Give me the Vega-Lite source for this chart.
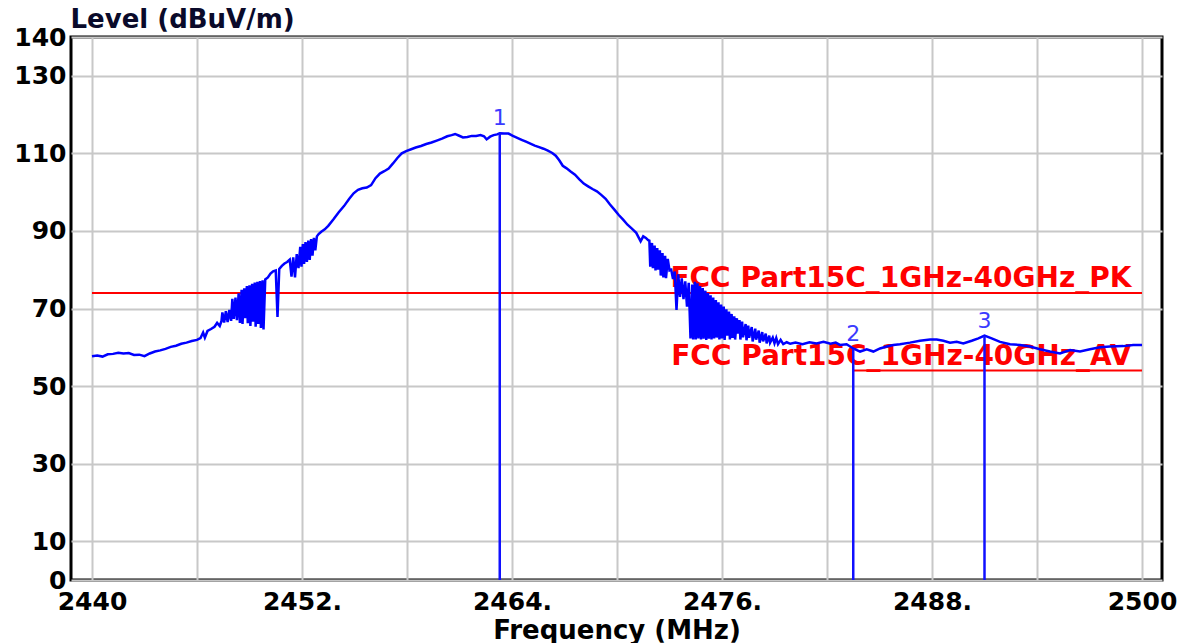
{
  "$schema": "https://vega.github.io/schema/vega-lite/v6.json",
  "width": 1091,
  "height": 543,
  "autosize": {"type": "none"},
  "padding": {"left": 71, "top": 37, "right": 30, "bottom": 63},
  "background": "white",
  "config": {
    "view": {"stroke": "#000000", "strokeWidth": 3},
    "font": "DejaVu Sans"
  },
  "datasets": {
    "limits": [
      {"name": "FCC Part15C_1GHz-40GHz_PK", "lv": 74, "f1": 2440, "f2": 2500},
      {"name": "FCC Part15C_1GHz-40GHz_AV", "lv": 54, "f1": 2483.5, "f2": 2500}
    ],
    "markers": [
      {"m": "1", "f": 2463.3, "v": 115.2},
      {"m": "2", "f": 2483.5, "v": 59.5},
      {"m": "3", "f": 2491.0, "v": 63.0}
    ],
    "trace": [
      {"f": 2440.0, "v": 57.7}, {"f": 2440.3, "v": 57.9}, {"f": 2440.6, "v": 57.6}, {"f": 2440.9, "v": 58.2},
      {"f": 2441.2, "v": 58.3}, {"f": 2441.5, "v": 58.6}, {"f": 2441.8, "v": 58.4}, {"f": 2442.1, "v": 58.5},
      {"f": 2442.4, "v": 58.0}, {"f": 2442.7, "v": 58.1}, {"f": 2443.0, "v": 57.7}, {"f": 2443.3, "v": 58.4},
      {"f": 2443.6, "v": 58.9}, {"f": 2443.9, "v": 59.2}, {"f": 2444.2, "v": 59.6}, {"f": 2444.5, "v": 60.1},
      {"f": 2444.8, "v": 60.4}, {"f": 2445.1, "v": 60.9}, {"f": 2445.4, "v": 61.2}, {"f": 2445.7, "v": 61.6},
      {"f": 2446.0, "v": 61.9}, {"f": 2446.2, "v": 62.4}, {"f": 2446.35, "v": 63.8}, {"f": 2446.45, "v": 62.5},
      {"f": 2446.6, "v": 64.2}, {"f": 2446.8, "v": 64.7}, {"f": 2447.0, "v": 65.3}, {"f": 2447.15, "v": 66.3},
      {"f": 2447.3, "v": 65.5}, {"f": 2447.4, "v": 66.8},
      {"f": 2447.45, "v": 69.0}, {"f": 2447.55, "v": 66.4}, {"f": 2447.65, "v": 69.3}, {"f": 2447.75, "v": 66.5},
      {"f": 2447.85, "v": 69.6}, {"f": 2447.95, "v": 66.8}, {"f": 2448.02, "v": 72.5}, {"f": 2448.1, "v": 67.3},
      {"f": 2448.2, "v": 72.8}, {"f": 2448.28, "v": 67.0}, {"f": 2448.38, "v": 73.9}, {"f": 2448.45, "v": 66.3},
      {"f": 2448.55, "v": 74.8}, {"f": 2448.6, "v": 66.0}, {"f": 2448.7, "v": 75.2}, {"f": 2448.75, "v": 67.5},
      {"f": 2448.85, "v": 75.8}, {"f": 2448.9, "v": 66.2}, {"f": 2449.0, "v": 76.0}, {"f": 2449.05, "v": 65.5},
      {"f": 2449.15, "v": 76.4}, {"f": 2449.2, "v": 66.6}, {"f": 2449.3, "v": 76.7}, {"f": 2449.35, "v": 65.3},
      {"f": 2449.45, "v": 76.9}, {"f": 2449.5, "v": 66.0}, {"f": 2449.6, "v": 77.1}, {"f": 2449.65, "v": 65.0},
      {"f": 2449.75, "v": 77.3}, {"f": 2449.8, "v": 64.6}, {"f": 2449.9, "v": 77.5}, {"f": 2450.05, "v": 78.0},
      {"f": 2450.2, "v": 79.0}, {"f": 2450.35, "v": 79.6}, {"f": 2450.5, "v": 79.8}, {"f": 2450.6, "v": 67.8},
      {"f": 2450.7, "v": 80.2}, {"f": 2450.85, "v": 81.0}, {"f": 2451.0, "v": 81.6}, {"f": 2451.15, "v": 82.0},
      {"f": 2451.3, "v": 82.6}, {"f": 2451.4, "v": 78.2}, {"f": 2451.5, "v": 83.2}, {"f": 2451.6, "v": 78.0},
      {"f": 2451.7, "v": 84.0}, {"f": 2451.8, "v": 80.4}, {"f": 2451.9, "v": 85.9}, {"f": 2451.97, "v": 80.8},
      {"f": 2452.05, "v": 86.6}, {"f": 2452.12, "v": 81.5}, {"f": 2452.2, "v": 87.1}, {"f": 2452.28, "v": 82.0},
      {"f": 2452.36, "v": 87.5}, {"f": 2452.44, "v": 82.5}, {"f": 2452.52, "v": 87.9}, {"f": 2452.6, "v": 83.6},
      {"f": 2452.68, "v": 88.2}, {"f": 2452.76, "v": 85.0}, {"f": 2452.85, "v": 88.6}, {"f": 2452.95, "v": 89.2},
      {"f": 2453.1, "v": 89.8}, {"f": 2453.3, "v": 90.4},
      {"f": 2453.5, "v": 91.3}, {"f": 2453.8, "v": 93.0}, {"f": 2454.1, "v": 94.8}, {"f": 2454.4, "v": 96.4},
      {"f": 2454.7, "v": 98.3}, {"f": 2454.95, "v": 99.7}, {"f": 2455.2, "v": 100.6}, {"f": 2455.45, "v": 101.0},
      {"f": 2455.7, "v": 101.2}, {"f": 2455.95, "v": 101.8}, {"f": 2456.2, "v": 103.6}, {"f": 2456.45, "v": 104.8},
      {"f": 2456.7, "v": 105.4}, {"f": 2456.95, "v": 106.1}, {"f": 2457.2, "v": 107.4}, {"f": 2457.45, "v": 108.8},
      {"f": 2457.7, "v": 110.0}, {"f": 2457.95, "v": 110.6}, {"f": 2458.2, "v": 111.0}, {"f": 2458.5, "v": 111.5},
      {"f": 2458.8, "v": 111.9}, {"f": 2459.1, "v": 112.4}, {"f": 2459.4, "v": 112.8}, {"f": 2459.7, "v": 113.3},
      {"f": 2460.0, "v": 113.8}, {"f": 2460.3, "v": 114.4}, {"f": 2460.55, "v": 114.7}, {"f": 2460.75, "v": 115.0},
      {"f": 2460.95, "v": 114.6}, {"f": 2461.2, "v": 114.1}, {"f": 2461.45, "v": 114.2}, {"f": 2461.7, "v": 114.5},
      {"f": 2461.95, "v": 114.5}, {"f": 2462.2, "v": 114.7}, {"f": 2462.4, "v": 114.4}, {"f": 2462.55, "v": 113.6},
      {"f": 2462.75, "v": 114.3}, {"f": 2462.95, "v": 114.7}, {"f": 2463.15, "v": 114.9}, {"f": 2463.3, "v": 115.2},
      {"f": 2463.55, "v": 115.1}, {"f": 2463.8, "v": 115.1}, {"f": 2464.05, "v": 114.5}, {"f": 2464.3, "v": 114.0},
      {"f": 2464.55, "v": 113.5}, {"f": 2464.8, "v": 113.0}, {"f": 2465.05, "v": 112.5}, {"f": 2465.3, "v": 112.0},
      {"f": 2465.55, "v": 111.6}, {"f": 2465.8, "v": 111.2}, {"f": 2466.05, "v": 110.7}, {"f": 2466.3, "v": 110.1},
      {"f": 2466.5, "v": 109.4}, {"f": 2466.7, "v": 108.2}, {"f": 2466.9, "v": 106.8}, {"f": 2467.1, "v": 106.2},
      {"f": 2467.35, "v": 105.3}, {"f": 2467.6, "v": 104.5}, {"f": 2467.85, "v": 103.3}, {"f": 2468.1, "v": 102.2},
      {"f": 2468.35, "v": 101.5}, {"f": 2468.6, "v": 100.8}, {"f": 2468.85, "v": 100.2}, {"f": 2469.1, "v": 99.3},
      {"f": 2469.35, "v": 98.3}, {"f": 2469.6, "v": 96.8}, {"f": 2469.85, "v": 95.5}, {"f": 2470.1, "v": 94.1},
      {"f": 2470.35, "v": 92.9}, {"f": 2470.6, "v": 91.6}, {"f": 2470.85, "v": 90.6}, {"f": 2471.1, "v": 89.5},
      {"f": 2471.35, "v": 87.3}, {"f": 2471.5, "v": 88.6}, {"f": 2471.65, "v": 88.2}, {"f": 2471.78, "v": 87.6},
      {"f": 2471.85, "v": 87.5}, {"f": 2471.9, "v": 80.8}, {"f": 2472.0, "v": 86.9}, {"f": 2472.05, "v": 80.4},
      {"f": 2472.15, "v": 86.2}, {"f": 2472.2, "v": 79.8}, {"f": 2472.3, "v": 85.6}, {"f": 2472.35, "v": 80.0},
      {"f": 2472.45, "v": 85.0}, {"f": 2472.5, "v": 78.5}, {"f": 2472.6, "v": 84.3}, {"f": 2472.65, "v": 78.0},
      {"f": 2472.75, "v": 83.6}, {"f": 2472.8, "v": 77.8}, {"f": 2472.9, "v": 82.8}, {"f": 2473.0, "v": 79.8},
      {"f": 2473.1, "v": 80.0}, {"f": 2473.2, "v": 77.6}, {"f": 2473.3, "v": 79.5}, {"f": 2473.4, "v": 69.6},
      {"f": 2473.5, "v": 78.8}, {"f": 2473.6, "v": 73.0}, {"f": 2473.7, "v": 77.8}, {"f": 2473.8, "v": 72.4},
      {"f": 2473.9, "v": 77.0}, {"f": 2474.0, "v": 70.5}, {"f": 2474.1, "v": 76.6}, {"f": 2474.2, "v": 62.3},
      {"f": 2474.3, "v": 76.2}, {"f": 2474.35, "v": 62.0}, {"f": 2474.45, "v": 76.9}, {"f": 2474.5, "v": 62.0},
      {"f": 2474.6, "v": 76.5}, {"f": 2474.65, "v": 62.3}, {"f": 2474.75, "v": 75.8}, {"f": 2474.8, "v": 62.0},
      {"f": 2474.9, "v": 75.3}, {"f": 2474.95, "v": 62.2}, {"f": 2475.05, "v": 74.6}, {"f": 2475.1, "v": 61.9},
      {"f": 2475.2, "v": 74.0}, {"f": 2475.25, "v": 62.2}, {"f": 2475.35, "v": 73.4}, {"f": 2475.4, "v": 62.0},
      {"f": 2475.5, "v": 72.8}, {"f": 2475.55, "v": 62.3}, {"f": 2475.65, "v": 72.2}, {"f": 2475.7, "v": 62.5},
      {"f": 2475.8, "v": 71.6}, {"f": 2475.85, "v": 62.0}, {"f": 2475.95, "v": 71.0}, {"f": 2476.0, "v": 62.3},
      {"f": 2476.1, "v": 70.5}, {"f": 2476.15, "v": 61.9}, {"f": 2476.25, "v": 69.8}, {"f": 2476.3, "v": 63.0},
      {"f": 2476.4, "v": 69.2}, {"f": 2476.45, "v": 62.0}, {"f": 2476.55, "v": 68.6}, {"f": 2476.6, "v": 62.4},
      {"f": 2476.7, "v": 68.0}, {"f": 2476.75, "v": 62.0}, {"f": 2476.85, "v": 67.5}, {"f": 2476.9, "v": 63.5},
      {"f": 2477.0, "v": 67.0}, {"f": 2477.05, "v": 62.0}, {"f": 2477.15, "v": 66.6}, {"f": 2477.2, "v": 62.6},
      {"f": 2477.35, "v": 66.0}, {"f": 2477.4, "v": 61.8}, {"f": 2477.5, "v": 65.6}, {"f": 2477.55, "v": 62.5},
      {"f": 2477.7, "v": 65.2}, {"f": 2477.75, "v": 61.5}, {"f": 2477.9, "v": 64.8}, {"f": 2477.95, "v": 62.0},
      {"f": 2478.1, "v": 64.3}, {"f": 2478.15, "v": 61.2}, {"f": 2478.3, "v": 63.9}, {"f": 2478.35, "v": 61.5},
      {"f": 2478.5, "v": 63.5}, {"f": 2478.55, "v": 61.0}, {"f": 2478.7, "v": 63.0}, {"f": 2478.75, "v": 61.2},
      {"f": 2478.9, "v": 62.5}, {"f": 2479.0, "v": 61.0}, {"f": 2479.1, "v": 62.4}, {"f": 2479.2, "v": 60.8},
      {"f": 2479.35, "v": 61.9}, {"f": 2479.5, "v": 60.8}, {"f": 2479.7, "v": 61.3}, {"f": 2479.9, "v": 60.9},
      {"f": 2480.2, "v": 61.2}, {"f": 2480.6, "v": 60.8}, {"f": 2481.0, "v": 61.3}, {"f": 2481.4, "v": 61.0},
      {"f": 2481.8, "v": 61.4}, {"f": 2482.2, "v": 60.9}, {"f": 2482.5, "v": 61.2}, {"f": 2482.74, "v": 60.6},
      {"f": 2483.12, "v": 60.8}, {"f": 2483.5, "v": 59.7}, {"f": 2483.89, "v": 58.9}, {"f": 2484.27, "v": 59.5},
      {"f": 2484.65, "v": 58.9}, {"f": 2485.03, "v": 59.7}, {"f": 2485.41, "v": 60.2}, {"f": 2485.79, "v": 60.6},
      {"f": 2486.17, "v": 60.8}, {"f": 2486.74, "v": 61.2}, {"f": 2487.31, "v": 61.7}, {"f": 2487.89, "v": 62.0},
      {"f": 2488.27, "v": 62.0}, {"f": 2488.65, "v": 61.7}, {"f": 2489.03, "v": 61.2}, {"f": 2489.41, "v": 61.4},
      {"f": 2489.79, "v": 61.0}, {"f": 2490.27, "v": 61.7}, {"f": 2490.65, "v": 62.3}, {"f": 2491.0, "v": 63.0},
      {"f": 2491.41, "v": 62.3}, {"f": 2491.89, "v": 61.4}, {"f": 2492.46, "v": 60.8}, {"f": 2493.03, "v": 60.6},
      {"f": 2493.6, "v": 60.2}, {"f": 2494.17, "v": 59.5}, {"f": 2494.74, "v": 58.9}, {"f": 2495.31, "v": 58.4},
      {"f": 2495.89, "v": 59.3}, {"f": 2496.46, "v": 58.9}, {"f": 2497.03, "v": 59.5}, {"f": 2497.6, "v": 60.0},
      {"f": 2498.17, "v": 60.2}, {"f": 2498.93, "v": 60.3}, {"f": 2499.5, "v": 60.6}, {"f": 2500.0, "v": 60.6}
    ]
  },
  "layer": [
    {
      "data": {"name": "limits"},
      "mark": {"type": "rule", "color": "#ff0000", "strokeWidth": 2},
      "encoding": {
        "x": {
          "field": "f1", "type": "quantitative", "title": "Frequency (MHz)",
          "scale": {"domain": [2438.8, 2501.143], "nice": false, "zero": false},
          "axis": {
            "values": [2440, 2446, 2452, 2458, 2464, 2470, 2476, 2482, 2488, 2494, 2500],
            "format": "d",
            "labelExpr": "(datum.value - 2440) % 12 == 0 ? ((datum.value == 2440 || datum.value == 2500) ? datum.label : datum.label + '.') : ''",
            "grid": true, "gridColor": "#c8c8c8", "gridWidth": 2, "gridOpacity": 1,
            "domain": false, "ticks": false, "tickSize": 0,
            "labelFont": "DejaVu Sans", "labelFontWeight": "bold", "labelFontSize": 25, "labelColor": "#000000",
            "labelPadding": 9, "labelBaseline": "top", "labelFlush": false, "labelOverlap": false, "labelBound": false,
            "titleFont": "DejaVu Sans", "titleFontSize": 26, "titleFontWeight": "bold", "titleColor": "#000000",
            "titleY": 50, "titleBaseline": "middle"
          }
        },
        "x2": {"field": "f2"},
        "y": {
          "field": "lv", "type": "quantitative", "title": "Level (dBuV/m)",
          "scale": {"domain": [0, 140], "nice": false, "zero": true},
          "axis": {
            "values": [0, 10, 30, 50, 70, 90, 110, 130, 140],
            "grid": true, "gridColor": "#c8c8c8", "gridWidth": 2, "gridOpacity": 1,
            "domain": false, "ticks": false, "tickSize": 0,
            "labelFont": "DejaVu Sans", "labelFontWeight": "bold", "labelFontSize": 25, "labelColor": "#000000",
            "labelPadding": 5, "labelFlush": false, "labelOverlap": false, "labelBound": false,
            "titleFont": "DejaVu Sans", "titleFontSize": 26, "titleFontWeight": "bold", "titleColor": "#0a0a2a",
            "titleAngle": 0, "titleX": -1, "titleY": -18, "titleAlign": "left", "titleBaseline": "middle"
          }
        }
      }
    },
    {
      "data": {"name": "limits"},
      "mark": {"type": "text", "color": "#ff0000", "font": "DejaVu Sans", "fontWeight": "bold", "fontSize": 28, "align": "right", "baseline": "alphabetic", "dy": -6},
      "encoding": {
        "x": {"datum": 2499.4, "type": "quantitative", "title": "Frequency (MHz)"},
        "y": {"field": "lv", "type": "quantitative", "title": "Level (dBuV/m)"},
        "text": {"field": "name"}
      }
    },
    {
      "data": {"name": "trace"},
      "mark": {"type": "line", "color": "#0000ff", "strokeWidth": 2.5},
      "encoding": {
        "x": {"field": "f", "type": "quantitative", "title": "Frequency (MHz)"},
        "y": {"field": "v", "type": "quantitative", "title": "Level (dBuV/m)"}
      }
    },
    {
      "data": {"name": "markers"},
      "mark": {"type": "rule", "color": "#1010ff", "strokeWidth": 2.5},
      "encoding": {
        "x": {"field": "f", "type": "quantitative", "title": "Frequency (MHz)"},
        "y": {"field": "v", "type": "quantitative", "title": "Level (dBuV/m)"},
        "y2": {"datum": 0}
      }
    },
    {
      "data": {"name": "markers"},
      "mark": {"type": "text", "color": "#3b3bff", "font": "DejaVu Sans", "fontSize": 22, "baseline": "alphabetic", "dy": -8},
      "encoding": {
        "x": {"field": "f", "type": "quantitative", "title": "Frequency (MHz)"},
        "y": {"field": "v", "type": "quantitative", "title": "Level (dBuV/m)"},
        "text": {"field": "m"}
      }
    }
  ]
}
